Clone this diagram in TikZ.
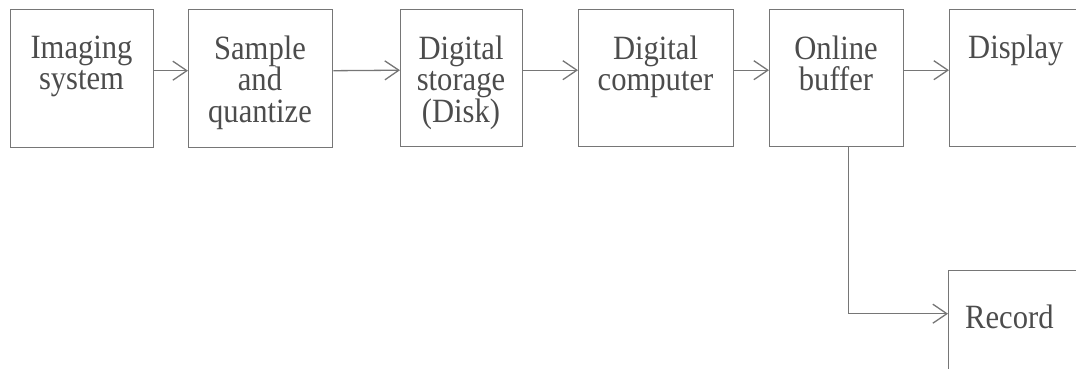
\documentclass[tikz,border=0pt]{standalone}
\usepackage{fontspec}
\setmainfont{Liberation Serif}[FakeStretch=0.9]
\usetikzlibrary{arrows.meta}
\definecolor{boxc}{HTML}{767676}
\definecolor{txtc}{HTML}{4C4C4C}
\begin{document}
\begin{tikzpicture}[x=1pt,y=-1pt,
  blk/.style={draw=boxc, line width=1.4pt, rectangle, inner sep=0pt, anchor=north west},
  txt/.style={text=txtc, inner sep=0pt, align=center, font=\fontsize{34pt}{31.5pt}\selectfont},
  arr/.style={draw=boxc, line width=1.3pt, -{Straight Barb[length=14pt,width=19pt,line width=1.3pt]}}]
\useasboundingbox (0,0) rectangle (1076,368);
\clip (0,0) rectangle (1076,368);
\node[blk, minimum width=143pt, minimum height=138pt] (b1) at (10,9) {};
\node[blk, minimum width=144pt, minimum height=138pt] (b2) at (188,9) {};
\node[blk, minimum width=122pt, minimum height=137pt] (b3) at (400,9) {};
\node[blk, minimum width=155pt, minimum height=137pt] (b4) at (578,9) {};
\node[blk, minimum width=134pt, minimum height=137pt] (b5) at (769,9) {};
\node[blk, minimum width=141pt, minimum height=137pt] (b6) at (949,9) {};
\node[blk, minimum width=141pt, minimum height=110pt] (b7) at (948,270) {};
\node[txt, anchor=north] (t1) at (81.5,35.5) {Imaging\\system};
\node[txt, anchor=north] (t2) at (260,35.5) {Sample\\and\\quantize};
\node[txt, anchor=north] (t3) at (461,35.5) {Digital\\storage\\(Disk)};
\node[txt, anchor=north] (t4) at (655.5,35.5) {Digital\\computer};
\node[txt, anchor=north] (t5) at (836,35.5) {Online\\buffer};
\node[txt, anchor=base west] (t6) at (968,58) {Display};
\node[txt, anchor=base west] (t7) at (965,328) {Record};
\draw[arr] ([yshift=8pt]b1.east) -- ([yshift=8pt]b2.west);
\draw[arr] ([yshift=8pt]b2.east) -- ([yshift=8pt]b3.west);
\draw[arr] ([yshift=8pt]b3.east) -- ([yshift=8pt]b4.west);
\draw[arr] ([yshift=8pt]b4.east) -- ([yshift=8pt]b5.west);
\draw[arr] ([yshift=8pt]b5.east) -- ([yshift=8pt]b6.west);
\draw[arr] ([xshift=12pt]b5.south) |- ([yshift=12pt]b7.west);
\end{tikzpicture}
\end{document}
